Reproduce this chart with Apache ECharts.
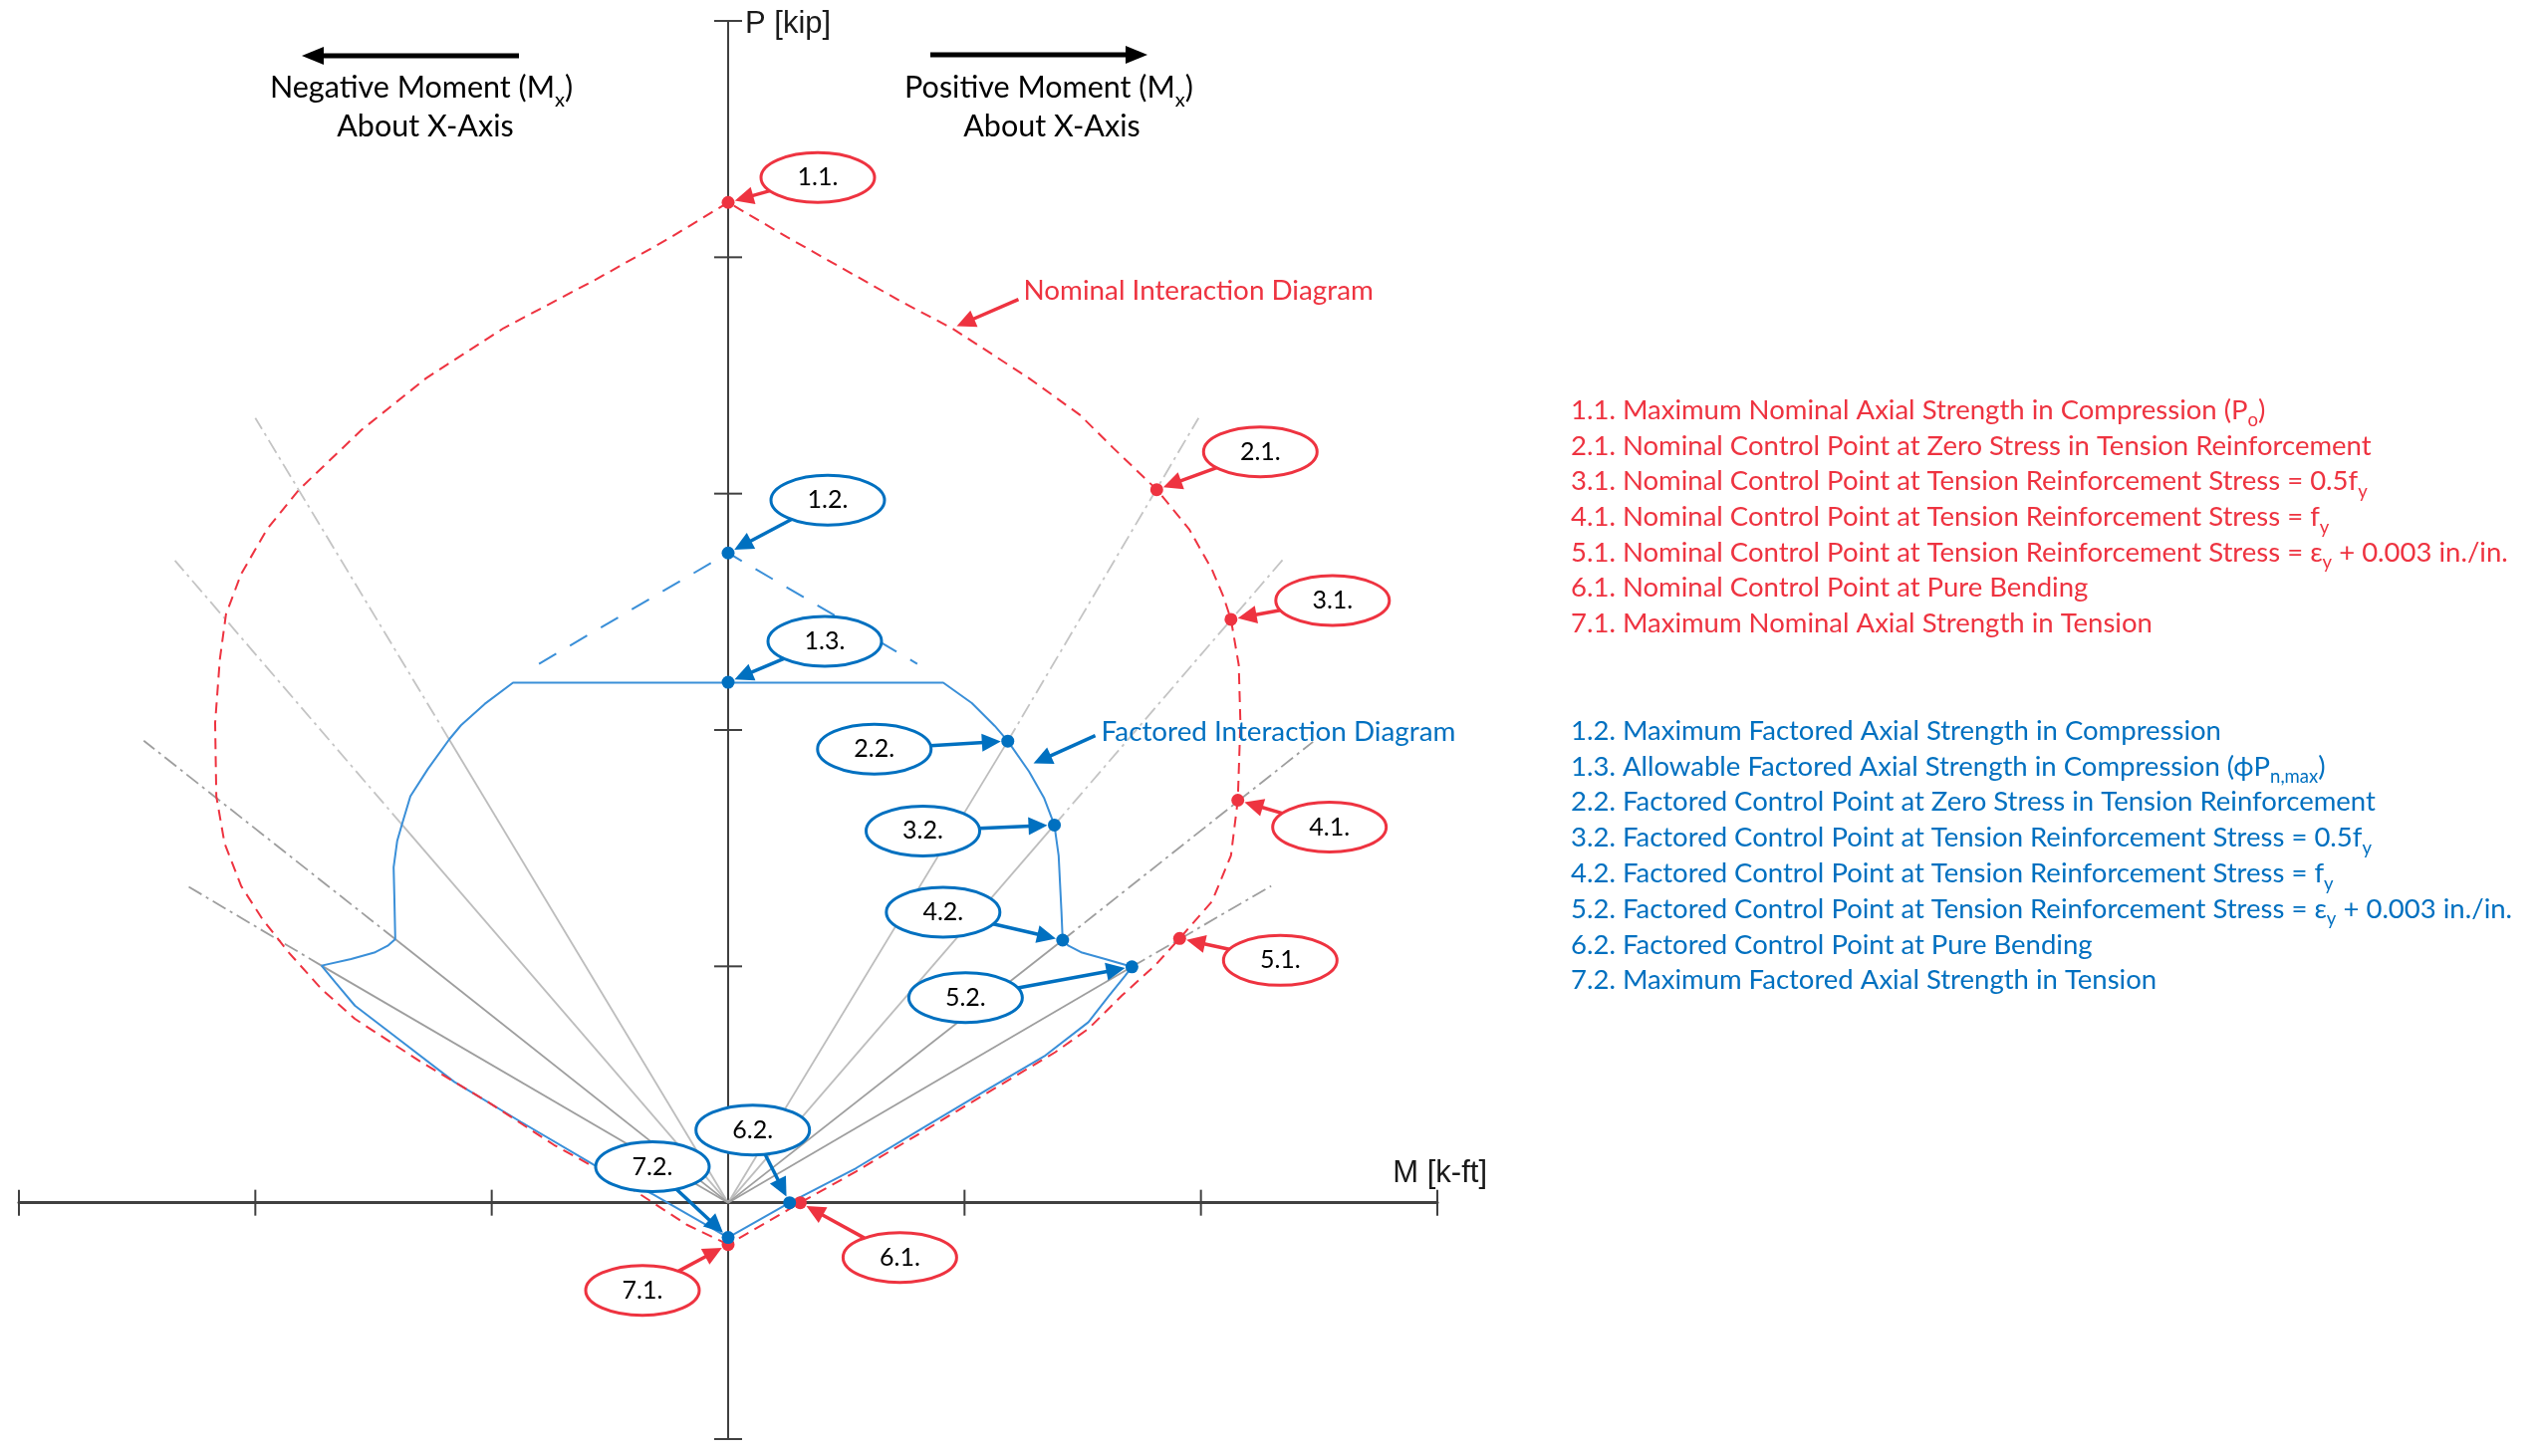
<!DOCTYPE html>
<html><head><meta charset="utf-8">
<script src="https://cdn.jsdelivr.net/npm/echarts@6/dist/echarts.min.js"></script>
<style>html,body{margin:0;padding:0;background:#fff}#c{width:2550px;height:1462px}</style>
</head><body><div id="c"></div>
<script>
// ---------- data ----------
const xTicks = [-3, -2, -1, 1, 2, 3];
const yTicks = [-1, 1, 2, 3, 4, 5];

// Nominal interaction diagram [M, P] (one tick = one unit)
const nominalCurve = [[0,-0.177],[-0.175,-0.093],[-0.456,0.09],[-0.736,0.244],[-1.017,0.427],[-1.298,0.595],[-1.579,0.778],[-1.72,0.904],[-1.86,1.06],[-1.97,1.2],[-2.06,1.34],[-2.13,1.52],[-2.165,1.72],[-2.17,2.03],[-2.15,2.30],[-2.124,2.49],[-2.06,2.66],[-1.95,2.85],[-1.814,3.018],[-1.55,3.27],[-1.278,3.488],[-0.95,3.70],[-0.554,3.909],[-0.25,4.08],[0,4.232],[0.25,4.085],[0.413,3.993],[0.735,3.811],[0.95,3.698],[1.273,3.488],[1.488,3.333],[1.628,3.194],[1.813,3.017],[1.95,2.85],[2.047,2.678],[2.095,2.565],[2.127,2.468],[2.16,2.275],[2.167,2.033],[2.156,1.703],[2.127,1.469],[2.047,1.275],[1.91,1.118],[1.805,1.003],[1.665,0.876],[1.524,0.736],[1.384,0.637],[1.103,0.469],[0.822,0.30],[0.541,0.132],[0.305,0],[0,-0.177]];

// Factored interaction diagram [M, P]
const factoredCurve = [[0,-0.147],[-0.315,0.034],[-0.568,0.16],[-0.877,0.342],[-1.158,0.511],[-1.396,0.694],[-1.579,0.834],[-1.66,0.93],[-1.72,1.003],[-1.595,1.031],[-1.497,1.058],[-1.44,1.087],[-1.408,1.115],[-1.412,1.30],[-1.415,1.419],[-1.40,1.53],[-1.38,1.60],[-1.344,1.72],[-1.27,1.835],[-1.18,1.96],[-1.13,2.02],[-1.03,2.11],[-0.91,2.20],[0.91,2.20],[1.031,2.114],[1.128,2.017],[1.183,1.953],[1.273,1.824],[1.337,1.711],[1.38,1.598],[1.398,1.469],[1.41,1.23],[1.415,1.111],[1.44,1.087],[1.497,1.058],[1.595,1.031],[1.708,0.998],[1.679,0.96],[1.611,0.876],[1.524,0.764],[1.342,0.623],[1.103,0.483],[0.822,0.315],[0.541,0.146],[0.26,0],[0,-0.147]];

// dashed factored extension above the cap
const factoredCapExtension = [[-0.80,2.28],[0,2.749],[0.80,2.28]];

const nominalPoints = [[0,4.232],[1.813,3.017],[2.127,2.468],[2.156,1.703],[1.91,1.118],[0.305,0],[0,-0.177]];
const nominalLabels = ['1.1.','2.1.','3.1.','4.1.','5.1.','6.1.','7.1.'];
const factoredPoints = [[0,2.749],[0,2.202],[1.183,1.953],[1.38,1.598],[1.415,1.111],[1.708,0.998],[0.26,0],[0,-0.147]];
const factoredLabels = ['1.2.','1.3.','2.2.','3.2.','4.2.','5.2.','6.2.','7.2.'];

// reference lines from the origin: [factored M, factored P, end M, end P]
const refLinesLight = [[1.183,1.953,1.99,3.32],[1.38,1.598,2.345,2.719],[-1.18,1.96,-2.0,3.32],[-1.38,1.60,-2.34,2.717]];
const refLinesDark = [[1.415,1.111,2.474,1.95],[1.708,0.998,2.297,1.34],[-1.408,1.115,-2.472,1.955],[-1.72,1.003,-2.294,1.344]];

// points the diagram-name arrows touch
const nominalNamePoint = [0.95, 3.70];
const factoredNamePoint = [1.275, 1.85];

const nominalLegend = [
 '1.1. Maximum Nominal Axial Strength in Compression (P_{o})',
 '2.1. Nominal Control Point at Zero Stress in Tension Reinforcement',
 '3.1. Nominal Control Point at Tension Reinforcement Stress = 0.5f_{y}',
 '4.1. Nominal Control Point at Tension Reinforcement Stress = f_{y}',
 '5.1. Nominal Control Point at Tension Reinforcement Stress = ε_{y} + 0.003 in./in.',
 '6.1. Nominal Control Point at Pure Bending',
 '7.1. Maximum Nominal Axial Strength in Tension'
];
const factoredLegend = [
 '1.2. Maximum Factored Axial Strength in Compression',
 '1.3. Allowable Factored Axial Strength in Compression (ϕP_{n,max})',
 '2.2. Factored Control Point at Zero Stress in Tension Reinforcement',
 '3.2. Factored Control Point at Tension Reinforcement Stress = 0.5f_{y}',
 '4.2. Factored Control Point at Tension Reinforcement Stress = f_{y}',
 '5.2. Factored Control Point at Tension Reinforcement Stress = ε_{y} + 0.003 in./in.',
 '6.2. Factored Control Point at Pure Bending',
 '7.2. Maximum Factored Axial Strength in Tension'
];

// ---------- layout / style ----------
const FONT = 'Lato, "Open Sans", "DejaVu Sans", sans-serif';
const AXFONT = '"Liberation Sans", Arial, sans-serif';
const RED = '#EE3340', BLUE = '#0070C0', BLUE_LINE = '#3A8FD8';
const nominalOffsets = [[90,-25],[104,-38],[102,-19],[92,27],[101,22],[100,55],[-86,46]];
const factoredOffsets = [[100,-53],[97,-41],[-134,8],[-132,6],[-120,-28],[-167,31],[-37,-73],[-76,-71]];

function arrowEls(sx, sy, tx, ty, color, w, headLen, headW) {
  const len = Math.hypot(tx - sx, ty - sy);
  const ux = (tx - sx) / len, uy = (ty - sy) / len;
  const bx = tx - ux * headLen, by = ty - uy * headLen;
  return [
    {type:'line', shape:{x1:sx, y1:sy, x2:bx + ux*2, y2:by + uy*2}, style:{stroke:color, lineWidth:w}},
    {type:'polygon', shape:{points:[[tx,ty],[bx - uy*headW, by + ux*headW],[bx + uy*headW, by - ux*headW]]}, style:{fill:color}}
  ];
}

function calloutRender(color, offsets, labels) {
  return function (params, api) {
    const p = api.coord([api.value(0), api.value(1)]);
    const off = offsets[params.dataIndex];
    const cx = p[0] + off[0], cy = p[1] + off[1];
    const rx = 57, ry = 25;
    const dx = p[0] - cx, dy = p[1] - cy;
    const t = 1 / Math.sqrt((dx/rx)*(dx/rx) + (dy/ry)*(dy/ry));
    const sx = cx + dx*t, sy = cy + dy*t;
    const len = Math.hypot(p[0]-sx, p[1]-sy);
    const ux = (p[0]-sx)/len, uy = (p[1]-sy)/len;
    const tx = p[0] - ux*7, ty = p[1] - uy*7;
    return {type:'group', children:[
      {type:'ellipse', shape:{cx:cx, cy:cy, rx:rx, ry:ry}, style:{fill:'#fff', stroke:color, lineWidth:3}},
      {type:'text', style:{text:labels[params.dataIndex], x:cx, y:cy, align:'center', verticalAlign:'middle', fontFamily:FONT, fontSize:25, fill:'#000'}}
    ].concat(arrowEls(sx, sy, tx, ty, color, 3.5, 19, 9))};
  };
}

function refRender(solidColor, dashColor) {
  return function (params, api) {
    const o = api.coord([0, 0]);
    const f = api.coord([api.value(0), api.value(1)]);
    const e = api.coord([api.value(2), api.value(3)]);
    return {type:'group', children:[
      {type:'line', shape:{x1:o[0],y1:o[1],x2:f[0],y2:f[1]}, style:{stroke:solidColor, lineWidth:1.8}},
      {type:'line', shape:{x1:f[0],y1:f[1],x2:e[0],y2:e[1]}, style:{stroke:dashColor, lineWidth:1.8, lineDash:[15,5,3,5]}}
    ]};
  };
}

function richText(str, x, y, color, size, subSize, align) {
  const parts = str.split(/_\{([^}]*)\}/);
  let txt = '';
  parts.forEach(function (s, i) { if (s.length) txt += (i % 2 ? '{s|' : '{m|') + s + '}'; });
  return {type:'text', z:100, style:{
    text: txt, x:x, y:y, align:align || 'left', verticalAlign:'middle',
    rich:{
      m:{fontFamily:FONT, fontSize:size, fill:color, lineHeight:Math.round(size*1.25), verticalAlign:'top'},
      s:{fontFamily:FONT, fontSize:subSize, fill:color, lineHeight:Math.round(subSize*0.8), verticalAlign:'bottom'}
    }
  }};
}

const chart = echarts.init(document.getElementById('c'), null, {width:2550, height:1462});
const option = {
  animation:false,
  backgroundColor:'#fff',
  grid:{left:19, right:1107, top:21, bottom:17},
  xAxis:{type:'value', min:-3, max:3, interval:1,
    axisLine:{onZero:true, lineStyle:{color:'#404040', width:3}},
    axisTick:{show:false}, axisLabel:{show:false}, splitLine:{show:false}},
  yAxis:{type:'value', min:-1, max:5, interval:1,
    axisLine:{onZero:true, lineStyle:{color:'#404040', width:2}},
    axisTick:{show:false}, axisLabel:{show:false}, splitLine:{show:false}},
  series:[
    {type:'custom', silent:true, z:1, data:xTicks.map(function(v){return [v,0];}),
     renderItem:function(p, api){const c = api.coord([api.value(0), api.value(1)]);
       return {type:'line', shape:{x1:c[0],y1:c[1]-13,x2:c[0],y2:c[1]+13}, style:{stroke:'#404040', lineWidth:2}};}},
    {type:'custom', silent:true, z:1, data:yTicks.map(function(v){return [0,v];}),
     renderItem:function(p, api){const c = api.coord([api.value(0), api.value(1)]);
       return {type:'line', shape:{x1:c[0]-14,y1:c[1],x2:c[0]+14,y2:c[1]}, style:{stroke:'#404040', lineWidth:2}};}},
    {type:'custom', silent:true, z:2, data:refLinesLight, encode:{x:[0,2], y:[1,3]}, renderItem:refRender('#BDBDBD', '#C4C4C4')},
    {type:'custom', silent:true, z:2, data:refLinesDark, encode:{x:[0,2], y:[1,3]}, renderItem:refRender('#9E9E9E', '#9E9E9E')},
    {type:'line', silent:true, z:3, data:factoredCurve, symbol:'none', lineStyle:{color:BLUE_LINE, width:2}},
    {type:'line', silent:true, z:3, data:factoredCapExtension, symbol:'none', lineStyle:{color:BLUE_LINE, width:2, type:[20,16]}},
    {type:'line', silent:true, z:4, data:nominalCurve, symbol:'none', lineStyle:{color:RED, width:2, type:[11,7]}},
    {type:'scatter', silent:true, z:5, data:nominalPoints, symbolSize:13, itemStyle:{color:RED, opacity:1}},
    {type:'scatter', silent:true, z:6, data:factoredPoints, symbolSize:13, itemStyle:{color:BLUE, opacity:1}},
    {type:'custom', silent:true, z:7, data:nominalPoints, renderItem:calloutRender(RED, nominalOffsets, nominalLabels)},
    {type:'custom', silent:true, z:7, data:factoredPoints, renderItem:calloutRender(BLUE, factoredOffsets, factoredLabels)}
  ]
};
chart.setOption(option);

// ---------- annotations ----------
const g = [];
// axis names
g.push({type:'text', style:{text:'P [kip]', x:748, y:24, align:'left', verticalAlign:'middle', fontFamily:AXFONT, fontSize:31, fill:'#1a1a1a'}});
g.push({type:'text', style:{text:'M [k-ft]', x:1493, y:1178, align:'right', verticalAlign:'middle', fontFamily:AXFONT, fontSize:31, fill:'#1a1a1a'}});
// header arrows
arrowEls(521, 56, 303, 56, '#000', 5, 22, 9).forEach(function(e){g.push(e);});
arrowEls(934, 55, 1152, 55, '#000', 5, 22, 9).forEach(function(e){g.push(e);});
g.push(richText('Negative Moment (M_{x})', 423, 92, '#000', 30.5, 20, 'center'));
g.push(richText('About X-Axis', 427, 131, '#000', 30.5, 20, 'center'));
g.push(richText('Positive Moment (M_{x})', 1053, 92, '#000', 30.5, 20, 'center'));
g.push(richText('About X-Axis', 1056, 131, '#000', 30.5, 20, 'center'));
// diagram names
const np = chart.convertToPixel({gridIndex:0}, nominalNamePoint);
arrowEls(np[0]+66, np[1]-29, np[0]+4, np[1]-2, RED, 3.5, 19, 9).forEach(function(e){g.push(e);});
g.push(richText('Nominal Interaction Diagram', np[0]+71, np[1]-34, RED, 27.8, 19, 'left'));
const fp = chart.convertToPixel({gridIndex:0}, factoredNamePoint);
arrowEls(fp[0]+66, fp[1]-30, fp[0]+4, fp[1]-2, BLUE, 3.5, 19, 9).forEach(function(e){g.push(e);});
g.push(richText('Factored Interaction Diagram', fp[0]+72, fp[1]-30, BLUE, 27.8, 19, 'left'));
// legends
nominalLegend.forEach(function(s, i){ g.push(richText(s, 1577, 415 + i*35.7, RED, 27.5, 18.5, 'left')); });
factoredLegend.forEach(function(s, i){ g.push(richText(s, 1577, 737 + i*35.8, BLUE, 27.5, 18.5, 'left')); });
chart.setOption({graphic:{elements:g}});
</script>
</body></html>
